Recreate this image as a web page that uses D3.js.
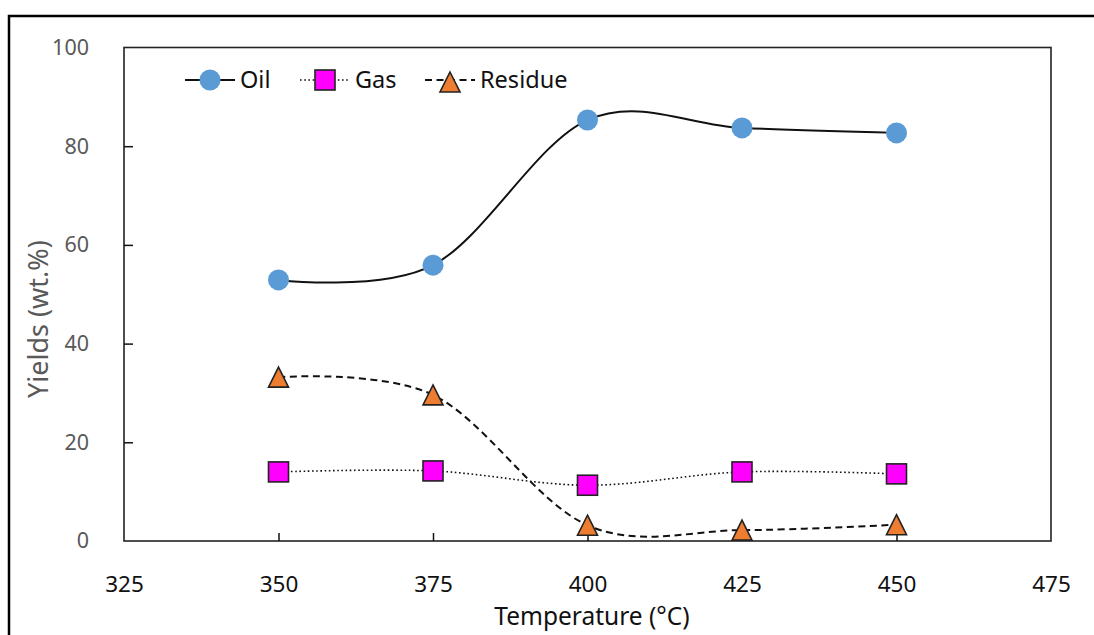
<!DOCTYPE html>
<html><head><meta charset="utf-8">
<script src="https://cdn.jsdelivr.net/npm/d3@7"></script>
<style>html,body{margin:0;padding:0;background:#fff;}svg{display:block;}</style>
</head><body>
<svg id="chart" width="1094" height="635"></svg>
<script>
const temperatures = [350, 375, 400, 425, 450];
const oilYield = [52.9, 55.9, 85.3, 83.7, 82.7];
const gasYield = [14.0, 14.2, 11.3, 14.0, 13.6];
const residueYield = [33.2, 29.6, 3.2, 2.2, 3.3];
const xTicks = [325, 350, 375, 400, 425, 450, 475];
const yTicks = [0, 20, 40, 60, 80, 100];
const seriesNames = ["Oil", "Gas", "Residue"];

const svg = d3.select("#chart");
const font = "'Noto Sans', 'Open Sans', sans-serif";
const L = 124, R = 1051, T = 47.5, B = 541;

// outer frame
svg.append("rect").attr("x", 9).attr("y", 16).attr("width", 1200).attr("height", 700)
  .attr("fill", "none").attr("stroke", "#000").attr("stroke-width", 2.5);

const x = d3.scaleLinear().domain([325, 475]).range([L, R]);
const y = d3.scaleLinear().domain([0, 100]).range([B, T]);

// plot border
svg.append("rect").attr("x", L).attr("y", T).attr("width", R - L).attr("height", B - T)
  .attr("fill", "none").attr("stroke", "#222").attr("stroke-width", 1.6);

// x axis
const xAxis = svg.append("g").attr("transform", `translate(0,${B})`)
  .call(d3.axisBottom(x).tickValues(xTicks).tickSizeInner(-8).tickSizeOuter(0).tickPadding(35).tickFormat(d3.format("d")));
xAxis.select(".domain").remove();
xAxis.selectAll(".tick line").attr("stroke", "#111").attr("stroke-width", 1.5)
  .attr("display", d => (d === 325 || d === 475) ? "none" : null);
xAxis.selectAll("text").attr("font-family", font).attr("font-size", 22.5).attr("fill", "#111");

// y axis
const yAxis = svg.append("g").attr("transform", `translate(${L},0)`)
  .call(d3.axisLeft(y).tickValues(yTicks).tickSizeInner(-9).tickSizeOuter(0).tickPadding(35));
yAxis.select(".domain").remove();
yAxis.selectAll(".tick line").attr("stroke", "#111").attr("stroke-width", 1.5)
  .attr("display", d => (d === 0 || d === 100) ? "none" : null);
yAxis.selectAll("text").attr("font-family", font).attr("font-size", 21.5).attr("fill", "#595959");

// axis titles
svg.append("text").attr("x", 592).attr("y", 624.5).attr("text-anchor", "middle")
  .attr("font-family", font).attr("font-size", 24.5).attr("fill", "#111").text("Temperature (°C)");
svg.append("text").attr("transform", `translate(48,398) rotate(-90)`).attr("text-anchor", "start")
  .attr("font-family", font).attr("font-size", 27).attr("fill", "#595959").text("Yields (wt.%)");

const curve = d3.curveCardinal.tension(0);
const line = d3.line().x(d => x(d[0])).y(d => y(d[1])).curve(curve);

const series = [
  {name: seriesNames[0], vals: oilYield, dash: null, marker: "circle", fill: "#5B9BD5"},
  {name: seriesNames[1], vals: gasYield, dash: "1.6,2.6", marker: "square", fill: "#FF00FF"},
  {name: seriesNames[2], vals: residueYield, dash: "7,4.5", marker: "triangle", fill: "#ED7D31"}
];

function drawMarker(g, type, fill, cx, cy) {
  if (type === "circle") {
    g.append("circle").attr("cx", cx).attr("cy", cy).attr("r", 10.5).attr("fill", fill);
  } else if (type === "square") {
    g.append("rect").attr("x", cx - 10).attr("y", cy - 10).attr("width", 20).attr("height", 20)
      .attr("fill", fill).attr("stroke", "#222").attr("stroke-width", 1.6);
  } else {
    const s = 20;
    g.append("path").attr("d", `M${cx},${cy - s / 2}L${cx + s / 2},${cy + s / 2}L${cx - s / 2},${cy + s / 2}Z`)
      .attr("fill", fill).attr("stroke", "#222").attr("stroke-width", 1.6).attr("stroke-linejoin", "miter");
  }
}

// lines
series.forEach(s => {
  const pts = temperatures.map((t, i) => [t, s.vals[i]]);
  svg.append("path").datum(pts).attr("d", line).attr("fill", "none")
    .attr("stroke", "#111").attr("stroke-width", s.name === "Gas" ? 1.6 : 2)
    .attr("stroke-dasharray", s.dash);
});
// markers
series.forEach(s => {
  const g = svg.append("g");
  temperatures.forEach((t, i) => drawMarker(g, s.marker, s.fill, x(t), y(s.vals[i])));
});

// legend
const legendX = [185, 300, 425];
const legY = 80;
series.forEach((s, i) => {
  const g = svg.append("g");
  const x0 = legendX[i];
  g.append("line").attr("x1", x0).attr("x2", x0 + 50).attr("y1", legY).attr("y2", legY)
    .attr("stroke", "#111").attr("stroke-width", s.name === "Gas" ? 1.6 : 2).attr("stroke-dasharray", s.dash);
  drawMarker(g, s.marker, s.fill, x0 + 25, s.marker === "triangle" ? legY + 2 : legY);
  g.append("text").attr("x", x0 + 55).attr("y", legY + 8).attr("font-family", font)
    .attr("font-size", 23.5).attr("fill", "#111").text(s.name);
});
</script>
</body></html>
